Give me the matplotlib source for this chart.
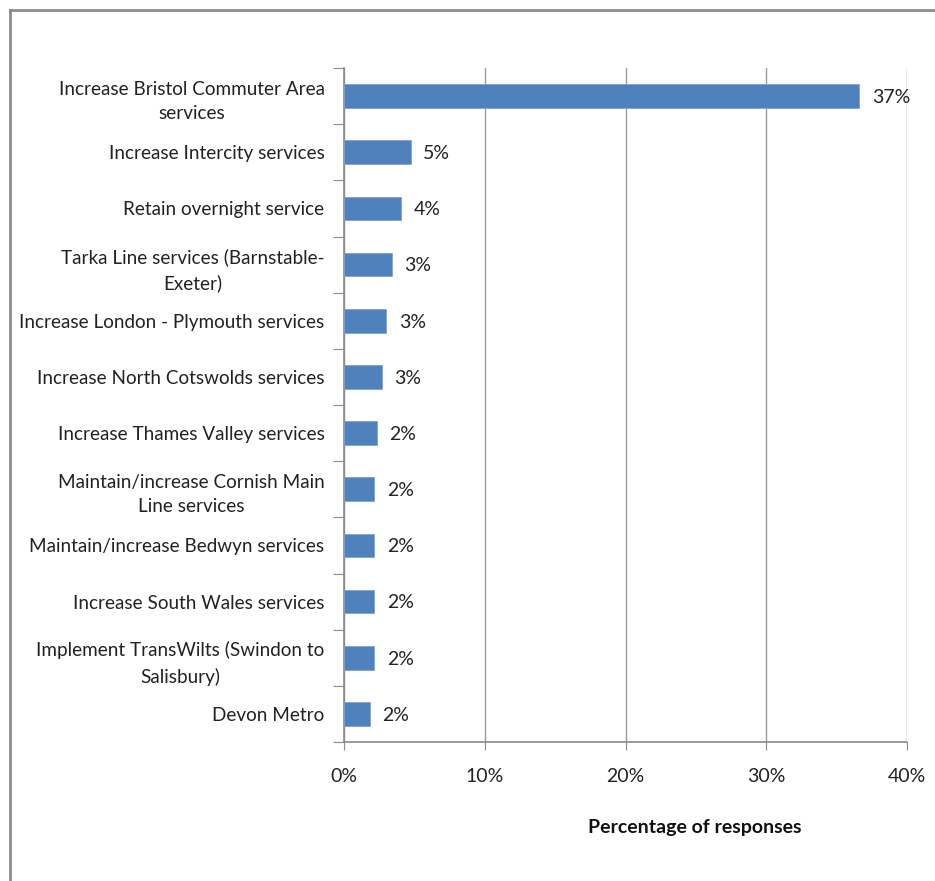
import matplotlib
matplotlib.use('Agg')
from matplotlib import pyplot as plt
from matplotlib.lines import Line2D

plt.rcParams['font.family'] = ['Lato', 'DejaVu Sans']

categories = ['Increase Bristol Commuter Area\nservices',
              'Increase Intercity services',
              'Retain overnight service',
              'Tarka Line services (Barnstable-\nExeter)',
              'Increase London - Plymouth services',
              'Increase North Cotswolds services',
              'Increase Thames Valley services',
              'Maintain/increase Cornish Main\nLine services',
              'Maintain/increase Bedwyn services',
              'Increase South Wales services',
              'Implement TransWilts (Swindon to\nSalisbury)',
              'Devon Metro']
values = [36.6, 4.75, 4.05, 3.4, 3.0, 2.7, 2.35, 2.15, 2.15, 2.15, 2.15, 1.85]
value_labels = ['37%', '5%', '4%', '3%', '3%', '3%', '2%', '2%', '2%', '2%', '2%', '2%']
xticks = [0, 10, 20, 30, 40]
xtick_labels = ['0%', '10%', '20%', '30%', '40%']

fig = plt.figure(figsize=(9.35, 8.81), dpi=100)
ax = fig.add_axes([344/935, 1-742/881, (907-344)/935, (742-68)/881])

pos = list(range(len(categories)))
ax.barh(pos, values, height=0.42, color='#4F81BD', edgecolor='#7FA3D0', linewidth=0.6, zorder=3)
ax.set_ylim(len(categories) - 0.5, -0.5)
ax.set_xlim(0, 40)

# bar labels
for i, v in enumerate(values):
    ax.annotate(value_labels[i], (v, i), xytext=(9, -1), textcoords='offset points',
                va='center', ha='left', fontsize=14, color='#222222')

# gridlines
ax.set_xticks(xticks)
ax.set_xticklabels(xtick_labels, fontsize=14, color='#222222')
ax.xaxis.grid(True, color='#9a9a9a', linewidth=1.0, zorder=0)
ax.tick_params(axis='x', length=6, color='#8a8a8a', pad=13)

ax.set_yticks([p + 0.5 for p in pos[:-1]] + [-0.5, len(categories) - 0.5])
ax.set_yticklabels([])
ax.tick_params(axis='y', length=8, color='#8a8a8a')
ax.set_yticks(pos, minor=True)
ax.set_yticklabels(categories, minor=True, fontsize=13.6, color='#222222', ma='center',
                   linespacing=1.55)
ax.tick_params(axis='y', which='minor', length=0, pad=14)

for s in ['top', 'right']:
    ax.spines[s].set_visible(False)
for s in ['left', 'bottom']:
    ax.spines[s].set_color('#8a8a8a')
    ax.spines[s].set_linewidth(1.2)

fig.text(695/935, 1-827/881, 'Percentage of responses', ha='center', va='center',
         fontsize=14, fontweight='bold', color='#111111')

# chart border (left and top edges visible)
fig.add_artist(Line2D([10/935, 10/935], [0, 1-10/881], color='#8c8c8c', linewidth=2, transform=fig.transFigure))
fig.add_artist(Line2D([10/935, 1], [1-10/881, 1-10/881], color='#8c8c8c', linewidth=2, transform=fig.transFigure))

fig.savefig('out.png', dpi=100, facecolor='white')
